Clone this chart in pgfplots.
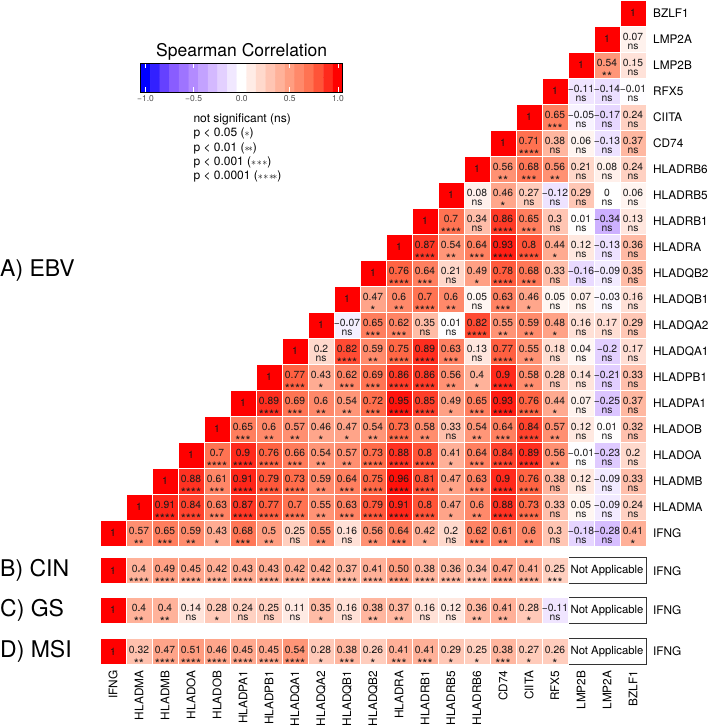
\documentclass[border=0pt]{standalone}
\usepackage{pgfplots}
\pgfplotsset{compat=1.18}
\usepackage{pgfplotstable}
\usepackage{fontspec}
\setmainfont{TeX Gyre Heros}
\definecolor{cbgray}{HTML}{4D4D4D}
\pgfplotsset{colormap={corr}{rgb255=(0,0,255) rgb255=(126,81,255) rgb255=(179,139,255) rgb255=(220,197,255) rgb255=(255,255,255) rgb255=(255,207,191) rgb255=(255,158,129) rgb255=(255,104,70) rgb255=(255,0,0)}}
\newcommand\cellfont{\fontsize{10.3}{12}\selectfont}
\newcommand\labfont{\fontsize{11.8}{13}\selectfont}
\newcommand\panelfont{\fontsize{23}{26}\selectfont}
\newcommand\titlefont{\fontsize{17.5}{20}\selectfont}
\newcommand\legfont{\fontsize{12}{14}\selectfont}
\newcommand\cbfont{\fontsize{8.5}{10}\selectfont}
\protected\def\ST#1{\raisebox{-6pt}[0pt][0pt]{\fontsize{13}{13}\selectfont #1}\vphantom{n}}
\newcommand\lst[1]{{\fontsize{10}{10}\selectfont$#1$}}

\pgfplotstableread{
x y r v s
1 0 0.57 0.57 \ST{**}
2 0 0.65 0.65 \ST{***}
3 0 0.59 0.59 \ST{**}
4 0 0.43 0.43 \ST{*}
5 0 0.68 0.68 \ST{***}
6 0 0.50 0.5 \ST{**}
7 0 0.25 0.25 ns
8 0 0.55 0.55 \ST{**}
9 0 0.16 0.16 ns
10 0 0.56 0.56 \ST{**}
11 0 0.64 0.64 \ST{***}
12 0 0.42 0.42 \ST{*}
13 0 0.20 0.2 ns
14 0 0.62 0.62 \ST{***}
15 0 0.61 0.61 \ST{**}
16 0 0.60 0.6 \ST{**}
17 0 0.30 0.3 ns
18 0 -0.18 −0.18 ns
19 0 -0.28 −0.28 ns
20 0 0.41 0.41 \ST{*}
2 1 0.91 0.91 \ST{****}
3 1 0.84 0.84 \ST{****}
4 1 0.63 0.63 \ST{***}
5 1 0.87 0.87 \ST{****}
6 1 0.77 0.77 \ST{****}
7 1 0.70 0.7 \ST{****}
8 1 0.55 0.55 \ST{**}
9 1 0.63 0.63 \ST{***}
10 1 0.79 0.79 \ST{****}
11 1 0.91 0.91 \ST{****}
12 1 0.80 0.8 \ST{****}
13 1 0.47 0.47 \ST{*}
14 1 0.60 0.6 \ST{**}
15 1 0.88 0.88 \ST{****}
16 1 0.73 0.73 \ST{****}
17 1 0.33 0.33 ns
18 1 0.05 0.05 ns
19 1 -0.09 −0.09 ns
20 1 0.24 0.24 ns
3 2 0.88 0.88 \ST{****}
4 2 0.61 0.61 \ST{***}
5 2 0.91 0.91 \ST{****}
6 2 0.79 0.79 \ST{****}
7 2 0.73 0.73 \ST{****}
8 2 0.59 0.59 \ST{**}
9 2 0.64 0.64 \ST{***}
10 2 0.75 0.75 \ST{****}
11 2 0.96 0.96 \ST{****}
12 2 0.81 0.81 \ST{****}
13 2 0.47 0.47 \ST{*}
14 2 0.63 0.63 \ST{***}
15 2 0.90 0.9 \ST{****}
16 2 0.76 0.76 \ST{****}
17 2 0.38 0.38 ns
18 2 0.12 0.12 ns
19 2 -0.09 −0.09 ns
20 2 0.33 0.33 ns
4 3 0.70 0.7 \ST{****}
5 3 0.90 0.9 \ST{****}
6 3 0.76 0.76 \ST{****}
7 3 0.66 0.66 \ST{***}
8 3 0.54 0.54 \ST{**}
9 3 0.57 0.57 \ST{**}
10 3 0.73 0.73 \ST{****}
11 3 0.88 0.88 \ST{****}
12 3 0.80 0.8 \ST{****}
13 3 0.41 0.41 \ST{*}
14 3 0.64 0.64 \ST{***}
15 3 0.84 0.84 \ST{****}
16 3 0.89 0.89 \ST{****}
17 3 0.56 0.56 \ST{**}
18 3 -0.01 −0.01 ns
19 3 -0.23 −0.23 ns
20 3 0.20 0.2 ns
5 4 0.65 0.65 \ST{***}
6 4 0.60 0.6 \ST{**}
7 4 0.57 0.57 \ST{**}
8 4 0.46 0.46 \ST{*}
9 4 0.47 0.47 \ST{*}
10 4 0.54 0.54 \ST{**}
11 4 0.73 0.73 \ST{****}
12 4 0.58 0.58 \ST{**}
13 4 0.33 0.33 ns
14 4 0.54 0.54 \ST{**}
15 4 0.64 0.64 \ST{***}
16 4 0.84 0.84 \ST{****}
17 4 0.57 0.57 \ST{**}
18 4 0.12 0.12 ns
19 4 0.01 0.01 ns
20 4 0.32 0.32 ns
6 5 0.89 0.89 \ST{****}
7 5 0.69 0.69 \ST{***}
8 5 0.60 0.6 \ST{**}
9 5 0.54 0.54 \ST{**}
10 5 0.72 0.72 \ST{***}
11 5 0.95 0.95 \ST{****}
12 5 0.85 0.85 \ST{****}
13 5 0.49 0.49 \ST{*}
14 5 0.65 0.65 \ST{***}
15 5 0.93 0.93 \ST{****}
16 5 0.76 0.76 \ST{****}
17 5 0.44 0.44 \ST{*}
18 5 0.07 0.07 ns
19 5 -0.25 −0.25 ns
20 5 0.37 0.37 ns
7 6 0.77 0.77 \ST{****}
8 6 0.43 0.43 \ST{*}
9 6 0.62 0.62 \ST{***}
10 6 0.69 0.69 \ST{***}
11 6 0.86 0.86 \ST{****}
12 6 0.86 0.86 \ST{****}
13 6 0.56 0.56 \ST{**}
14 6 0.40 0.4 \ST{*}
15 6 0.90 0.9 \ST{****}
16 6 0.58 0.58 \ST{**}
17 6 0.28 0.28 ns
18 6 0.14 0.14 ns
19 6 -0.21 −0.21 ns
20 6 0.33 0.33 ns
8 7 0.20 0.2 ns
9 7 0.82 0.82 \ST{****}
10 7 0.59 0.59 \ST{**}
11 7 0.75 0.75 \ST{****}
12 7 0.89 0.89 \ST{****}
13 7 0.63 0.63 \ST{***}
14 7 0.13 0.13 ns
15 7 0.77 0.77 \ST{****}
16 7 0.55 0.55 \ST{**}
17 7 0.18 0.18 ns
18 7 0.04 0.04 ns
19 7 -0.20 −0.2 ns
20 7 0.17 0.17 ns
9 8 -0.07 −0.07 ns
10 8 0.65 0.65 \ST{***}
11 8 0.62 0.62 \ST{***}
12 8 0.35 0.35 ns
13 8 0.01 0.01 ns
14 8 0.82 0.82 \ST{****}
15 8 0.55 0.55 \ST{**}
16 8 0.59 0.59 \ST{**}
17 8 0.48 0.48 \ST{*}
18 8 0.16 0.16 ns
19 8 0.17 0.17 ns
20 8 0.29 0.29 ns
10 9 0.47 0.47 \ST{*}
11 9 0.60 0.6 \ST{**}
12 9 0.70 0.7 \ST{****}
13 9 0.60 0.6 \ST{**}
14 9 0.05 0.05 ns
15 9 0.63 0.63 \ST{***}
16 9 0.46 0.46 \ST{*}
17 9 0.05 0.05 ns
18 9 0.07 0.07 ns
19 9 -0.03 −0.03 ns
20 9 0.16 0.16 ns
11 10 0.76 0.76 \ST{****}
12 10 0.64 0.64 \ST{***}
13 10 0.21 0.21 ns
14 10 0.49 0.49 \ST{*}
15 10 0.78 0.78 \ST{****}
16 10 0.68 0.68 \ST{***}
17 10 0.33 0.33 ns
18 10 -0.16 −0.16 ns
19 10 -0.09 −0.09 ns
20 10 0.35 0.35 ns
12 11 0.87 0.87 \ST{****}
13 11 0.54 0.54 \ST{**}
14 11 0.64 0.64 \ST{***}
15 11 0.93 0.93 \ST{****}
16 11 0.80 0.8 \ST{****}
17 11 0.44 0.44 \ST{*}
18 11 0.12 0.12 ns
19 11 -0.13 −0.13 ns
20 11 0.36 0.36 ns
13 12 0.70 0.7 \ST{****}
14 12 0.34 0.34 ns
15 12 0.86 0.86 \ST{****}
16 12 0.65 0.65 \ST{***}
17 12 0.30 0.3 ns
18 12 0.01 0.01 ns
19 12 -0.34 −0.34 ns
20 12 0.13 0.13 ns
14 13 0.08 0.08 ns
15 13 0.46 0.46 \ST{*}
16 13 0.27 0.27 ns
17 13 -0.12 −0.12 ns
18 13 0.29 0.29 ns
19 13 0.00 0 ns
20 13 0.06 0.06 ns
15 14 0.56 0.56 \ST{**}
16 14 0.68 0.68 \ST{***}
17 14 0.56 0.56 \ST{**}
18 14 0.21 0.21 ns
19 14 0.08 0.08 ns
20 14 0.24 0.24 ns
16 15 0.71 0.71 \ST{****}
17 15 0.38 0.38 ns
18 15 0.06 0.06 ns
19 15 -0.13 −0.13 ns
20 15 0.37 0.37 ns
17 16 0.65 0.65 \ST{***}
18 16 -0.05 −0.05 ns
19 16 -0.17 −0.17 ns
20 16 0.24 0.24 ns
18 17 -0.11 −0.11 ns
19 17 -0.14 −0.14 ns
20 17 -0.01 −0.01 ns
19 18 0.54 0.54 \ST{**}
20 18 0.15 0.15 ns
20 19 0.07 0.07 ns
1 -1.45 0.40 0.4 \ST{****}
2 -1.45 0.49 0.49 \ST{****}
3 -1.45 0.45 0.45 \ST{****}
4 -1.45 0.42 0.42 \ST{****}
5 -1.45 0.43 0.43 \ST{****}
6 -1.45 0.43 0.43 \ST{****}
7 -1.45 0.42 0.42 \ST{****}
8 -1.45 0.42 0.42 \ST{****}
9 -1.45 0.37 0.37 \ST{****}
10 -1.45 0.41 0.41 \ST{****}
11 -1.45 0.50 0.50 \ST{****}
12 -1.45 0.38 0.38 \ST{****}
13 -1.45 0.36 0.36 \ST{****}
14 -1.45 0.34 0.34 \ST{****}
15 -1.45 0.47 0.47 \ST{****}
16 -1.45 0.41 0.41 \ST{****}
17 -1.45 0.25 0.25 \ST{***}
1 -2.97 0.40 0.4 \ST{**}
2 -2.97 0.40 0.4 \ST{**}
3 -2.97 0.14 0.14 ns
4 -2.97 0.28 0.28 \ST{*}
5 -2.97 0.24 0.24 ns
6 -2.97 0.25 0.25 ns
7 -2.97 0.11 0.11 ns
8 -2.97 0.35 0.35 \ST{*}
9 -2.97 0.16 0.16 ns
10 -2.97 0.38 0.38 \ST{**}
11 -2.97 0.37 0.37 \ST{**}
12 -2.97 0.16 0.16 ns
13 -2.97 0.12 0.12 ns
14 -2.97 0.36 0.36 \ST{**}
15 -2.97 0.41 0.41 \ST{**}
16 -2.97 0.28 0.28 \ST{*}
17 -2.97 -0.11 −0.11 ns
1 -4.56 0.32 0.32 \ST{**}
2 -4.56 0.47 0.47 \ST{****}
3 -4.56 0.51 0.51 \ST{****}
4 -4.56 0.46 0.46 \ST{****}
5 -4.56 0.45 0.45 \ST{****}
6 -4.56 0.45 0.45 \ST{****}
7 -4.56 0.54 0.54 \ST{****}
8 -4.56 0.28 0.28 \ST{*}
9 -4.56 0.38 0.38 \ST{***}
10 -4.56 0.26 0.26 \ST{*}
11 -4.56 0.41 0.41 \ST{***}
12 -4.56 0.41 0.41 \ST{***}
13 -4.56 0.29 0.29 \ST{*}
14 -4.56 0.25 0.25 \ST{*}
15 -4.56 0.38 0.38 \ST{***}
16 -4.56 0.27 0.27 \ST{*}
17 -4.56 0.26 0.26 \ST{*}
}\offdiag

\pgfplotstableread{
x y r
0 0 1
1 1 1
2 2 1
3 3 1
4 4 1
5 5 1
6 6 1
7 7 1
8 8 1
9 9 1
10 10 1
11 11 1
12 12 1
13 13 1
14 14 1
15 15 1
16 16 1
17 17 1
18 18 1
19 19 1
20 20 1
0 -1.45 1
0 -2.97 1
0 -4.56 1
}\diag

\begin{document}
\begin{tikzpicture}
\begin{axis}[
  at={(0pt,0pt)}, anchor=south west,
  x=26pt, y=26pt,
  xmin=-0.5, xmax=20.5, ymin=-5.06, ymax=20.5,
  axis line style={draw=none},
  major tick length=0pt,
  xtick={0,1,2,3,4,5,6,7,8,9,10,11,12,13,14,15,16,17,18,19,20},
  xticklabels={IFNG,HLADMA,HLADMB,HLADOA,HLADOB,HLADPA1,HLADPB1,HLADQA1,HLADQA2,HLADQB1,HLADQB2,HLADRA,HLADRB1,HLADRB5,HLADRB6,CD74,CIITA,RFX5,LMP2B,LMP2A,BZLF1},
  xticklabel style={rotate=90, anchor=east, font=\labfont, inner sep=0pt},
  xticklabel shift=6pt,
  ytick={-4.56,-2.97,-1.45,0,1,2,3,4,5,6,7,8,9,10,11,12,13,14,15,16,17,18,19,20},
  yticklabels={IFNG,IFNG,IFNG,IFNG,HLADMA,HLADMB,HLADOA,HLADOB,HLADPA1,HLADPB1,HLADQA1,HLADQA2,HLADQB1,HLADQB2,HLADRA,HLADRB1,HLADRB5,HLADRB6,CD74,CIITA,RFX5,LMP2B,LMP2A,BZLF1},
  yticklabel pos=right,
  yticklabel style={anchor=west, font=\labfont, inner sep=0pt},
  yticklabel shift=7pt,
  clip=false,
  point meta min=-1, point meta max=1,
]
% cell squares
\addplot[scatter, only marks, mark=square*, mark size=13pt, point meta=explicit,
  scatter/use mapped color={draw=white, fill=mapped color}]
  table[x=x, y=y, meta=r]{\offdiag};
\addplot[scatter, only marks, mark=square*, mark size=13pt, point meta=explicit,
  scatter/use mapped color={draw=white, fill=mapped color}]
  table[x=x, y=y, meta=r]{\diag};
% values
\addplot[only marks, mark=*, mark size=0.1pt, mark options={draw=none, fill=none},
  point meta=explicit symbolic, nodes near coords,
  every node near coord/.style={anchor=center, font=\cellfont, text=black!90, inner sep=0pt, yshift=2pt}]
  table[x=x, y=y, meta=v]{\offdiag};
% significance
\addplot[only marks, mark=*, mark size=0.1pt, mark options={draw=none, fill=none},
  point meta=explicit symbolic, nodes near coords,
  every node near coord/.style={anchor=center, font=\cellfont, text=black!90, inner sep=0pt, yshift=-7.8pt}]
  table[x=x, y=y, meta=s]{\offdiag};
% diagonal ones
\addplot[only marks, mark=*, mark size=0.1pt, mark options={draw=none, fill=none},
  point meta=explicit symbolic, nodes near coords,
  every node near coord/.style={anchor=center, font=\cellfont, text=black!90, inner sep=0pt}]
  table[x=x, y=y, meta=r]{\diag};
\addplot[draw=black!80, fill=white, line width=0.7pt] coordinates {(17.5,-1.95) (20.5,-1.95) (20.5,-0.95) (17.5,-0.95)} -- cycle;
\addplot[draw=black!80, fill=white, line width=0.7pt] coordinates {(17.5,-3.47) (20.5,-3.47) (20.5,-2.47) (17.5,-2.47)} -- cycle;
\addplot[draw=black!80, fill=white, line width=0.7pt] coordinates {(17.5,-5.06) (20.5,-5.06) (20.5,-4.06) (17.5,-4.06)} -- cycle;
\node[font=\fontsize{11.3}{12}\selectfont] at (axis cs:19,-1.45) {Not Applicable};
\node[font=\fontsize{11.3}{12}\selectfont] at (axis cs:19,-2.97) {Not Applicable};
\node[font=\fontsize{11.3}{12}\selectfont] at (axis cs:19,-4.56) {Not Applicable};
\node[anchor=west, inner sep=0pt, font=\panelfont] at (axis cs:-4.346,10.1) {A) EBV};
\node[anchor=west, inner sep=0pt, font=\panelfont] at (axis cs:-4.346,-1.45) {B) CIN};
\node[anchor=west, inner sep=0pt, font=\panelfont] at (axis cs:-4.346,-2.97) {C) GS};
\node[anchor=west, inner sep=0pt, font=\panelfont] at (axis cs:-4.346,-4.56) {D) MSI};
\node[font=\titlefont, inner sep=0pt] at (axis cs:4.95,18.49) {Spearman Correlation};
\node[anchor=west, inner sep=0pt, font=\legfont] at (axis cs:3.09,15.92) {not significant (ns)};
\node[anchor=west, inner sep=0pt, font=\legfont] at (axis cs:3.09,15.36) {p < 0.05 (\lst{\ast})};
\node[anchor=west, inner sep=0pt, font=\legfont] at (axis cs:3.09,14.81) {p < 0.01 (\lst{\ast\!\ast})};
\node[anchor=west, inner sep=0pt, font=\legfont] at (axis cs:3.09,14.24) {p < 0.001 (\lst{\ast\!\ast\!\ast})};
\node[anchor=west, inner sep=0pt, font=\legfont] at (axis cs:3.09,13.70) {p < 0.0001 (\lst{\ast\!\ast\!\ast\!\ast})};
\end{axis}
\begin{axis}[
  at={(40.7pt,572.26pt)}, anchor=south west,
  x=96.2pt, y=14.5pt,
  xmin=-1.05, xmax=1.05, ymin=-0.5, ymax=1.5,
  axis on top,
  axis line style={black, line width=0.8pt},
  xtick={-1,-0.5,0,0.5,1},
  xticklabels={−1.0,−0.5,0.0,0.5,1.0},
  ytick=\empty,
  tick align=inside, major tick length=5pt,
  tick style={white, line width=0.8pt},
  xticklabel style={font=\cbfont, text=cbgray, inner sep=0pt},
  xticklabel shift=3pt,
  point meta min=-1, point meta max=1,
]
\addplot[matrix plot*, mesh/cols=21, point meta=x] coordinates {
(-1,0) (-0.9,0) (-0.8,0) (-0.7,0) (-0.6,0) (-0.5,0) (-0.4,0) (-0.3,0) (-0.2,0) (-0.1,0) (0,0) (0.1,0) (0.2,0) (0.3,0) (0.4,0) (0.5,0) (0.6,0) (0.7,0) (0.8,0) (0.9,0) (1,0)
(-1,1) (-0.9,1) (-0.8,1) (-0.7,1) (-0.6,1) (-0.5,1) (-0.4,1) (-0.3,1) (-0.2,1) (-0.1,1) (0,1) (0.1,1) (0.2,1) (0.3,1) (0.4,1) (0.5,1) (0.6,1) (0.7,1) (0.8,1) (0.9,1) (1,1)
};
\end{axis}
\pgfresetboundingbox
\path[use as bounding box] (-100pt,-61.44pt) rectangle (608pt,664.56pt);
\end{tikzpicture}
\end{document}
